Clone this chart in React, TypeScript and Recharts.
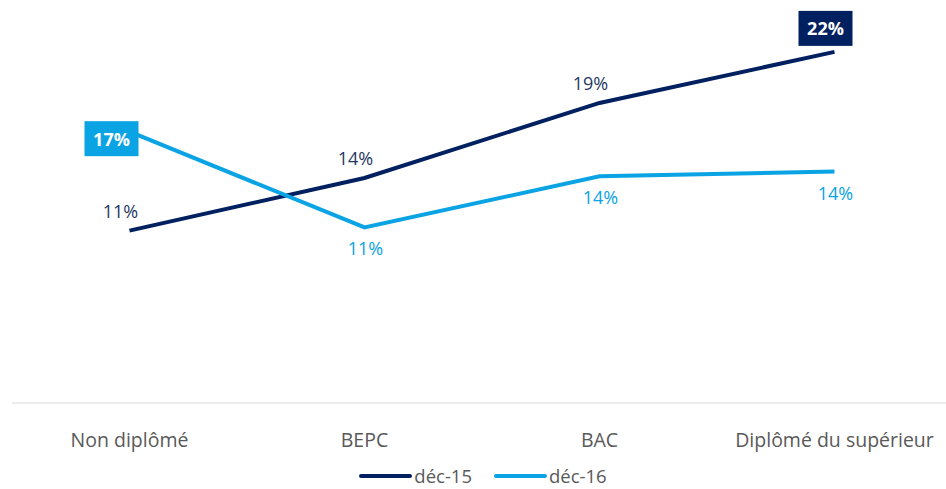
import { LineChart, Line, XAxis, YAxis, LabelList, Legend } from 'recharts'

const categories = ['Non diplômé', 'BEPC', 'BAC', 'Diplômé du supérieur']
const dec15 = [10.8, 14.1, 18.8, 22.0]
const dec16 = [17.0, 11.0, 14.2, 14.5]
const dec15Labels = ['11%', '14%', '19%', '22%']
const dec16Labels = ['17%', '11%', '14%', '14%']

const data = categories.map((name, i) => ({ name, dec15: dec15[i], dec16: dec16[i] }))

const DARK = '#002060'
const DARK_TEXT = '#1F3864'
const LIGHT = '#0AA3E4'
const FONT = '"Open Sans", sans-serif'

function makeLabel(labels: string[], color: string, textColor: string, boxed: number, above: boolean) {
  return (props: any) => {
    const { x, y, index } = props
    const text = labels[index]
    if (index === boxed) {
      const cx = above ? x - 9 : x - 18
      const cy = above ? y - 23.5 : y + 7
      return (
        <g>
          <rect x={cx - 27} y={cy - 17.5} width={54} height={35} fill={color} />
          <text x={cx} y={cy} textAnchor="middle" dominantBaseline="central" fill="#fff"
            fontFamily={FONT} fontSize={18} fontWeight={700}>{text}</text>
        </g>
      )
    }
    const tx = above ? x - 9 : x + 1
    const ty = above ? y - 20 : y + 21
    return (
      <text x={tx} y={ty} textAnchor="middle" dominantBaseline="central" fill={textColor}
        fontFamily={FONT} fontSize={18}>{text}</text>
    )
  }
}

function Tick(props: any) {
  const { x, y, payload } = props
  return (
    <text x={x} y={y + 36} textAnchor="middle" fill="#595959" fontFamily={FONT} fontSize={19.5}>
      {payload.value}
    </text>
  )
}

function LegendContent() {
  const items = [
    { label: 'déc-15', color: DARK },
    { label: 'déc-16', color: LIGHT },
  ]
  return (
    <div style={{ display: 'flex', justifyContent: 'center', alignItems: 'center', height: 30, paddingLeft: 2, gap: 22 }}>
      {items.map((it) => (
        <div key={it.label} style={{ display: 'flex', alignItems: 'center', position: 'relative', top: 2 }}>
          <div style={{ width: 53, height: 4, borderRadius: 2, background: it.color, marginRight: 2 }} />
          <span style={{ fontFamily: FONT, fontSize: 18.5, lineHeight: '14px', color: '#595959' }}>{it.label}</span>
        </div>
      ))}
    </div>
  )
}

export default function App() {
  return (
    <div style={{ position: 'fixed', left: 0, top: 0, width: 946, height: 489, overflow: 'hidden', background: '#fff' }}>
      <LineChart width={960} height={489} data={data} margin={{ top: 4, right: 8, left: 12, bottom: 0 }}>
        <XAxis
          dataKey="name"
          padding={{ left: 117.5, right: 117.5 }}
          axisLine={{ stroke: '#D9D9D9', strokeWidth: 1 }}
          tickLine={false}
          height={56}
          tick={<Tick />}
          interval={0}
        />
        <YAxis hide domain={[0, 25]} />
        <Legend verticalAlign="bottom" content={<LegendContent />} />
        <Line dataKey="dec15" name="déc-15" stroke={DARK} strokeWidth={4} dot={false} isAnimationActive={false}>
          <LabelList dataKey="dec15" content={makeLabel(dec15Labels, DARK, DARK_TEXT, 3, true)} />
        </Line>
        <Line dataKey="dec16" name="déc-16" stroke={LIGHT} strokeWidth={4} dot={false} isAnimationActive={false}>
          <LabelList dataKey="dec16" content={makeLabel(dec16Labels, LIGHT, LIGHT, 0, false)} />
        </Line>
      </LineChart>
    </div>
  )
}
